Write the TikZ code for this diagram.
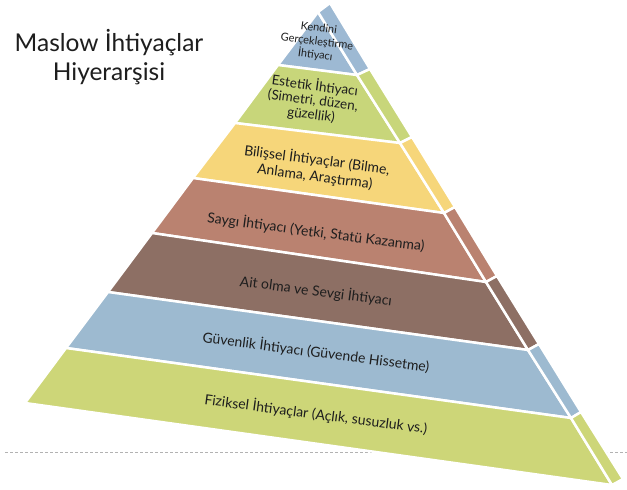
\documentclass[tikz,border=0pt]{standalone}
\usepackage{fontspec}
\setmainfont{Lato}
\definecolor{ckendi}{RGB}{157,185,211}
\definecolor{cestetik}{RGB}{200,214,122}
\definecolor{cbilis}{RGB}{246,214,122}
\definecolor{csaygi}{RGB}{186,130,112}
\definecolor{cait}{RGB}{141,111,100}
\definecolor{cguven}{RGB}{157,186,208}
\definecolor{cfizik}{RGB}{205,214,120}
\definecolor{ctext}{RGB}{30,30,30}
\begin{document}
\begin{tikzpicture}[x=1pt,y=-1pt,
  layerface/.style={draw=white, line width=2.5pt, line join=round},
  lbl/.style={text=ctext, font=\fontsize{14}{16.5}\selectfont, align=center, rotate=-7.5, inner sep=0pt},
  titlelbl/.style={text=ctext, font=\fontsize{24.5}{29}\selectfont, align=center, inner sep=0pt},
  guide/.style={draw=black!30, line width=0.8pt, dash pattern=on 3pt off 2pt}]
\useasboundingbox (0,0) rectangle (627,490);
\fill[white] (0,0) rectangle (627,490);
% guide line
\coordinate (d1) at (5,452);
\coordinate (d2) at (627,452);
\draw[guide] (d1) -- (d2);
% left edge
\coordinate (L0) at (318,12);
\coordinate (L1) at (278,65);
\coordinate (L2) at (235,123);
\coordinate (L3) at (193,178);
\coordinate (L4) at (152,233);
\coordinate (L5) at (108,292);
\coordinate (L6) at (66,348);
\coordinate (L7) at (25,403);
% front/side edge
\coordinate (R0) at (318,12);
\coordinate (R1) at (357,75);
\coordinate (R2) at (400,143);
\coordinate (R3) at (444,213);
\coordinate (R4) at (486,282);
\coordinate (R5) at (528,350);
\coordinate (R6) at (571,418);
\coordinate (R7) at (612,485);
% outer edge
\coordinate (O0) at (330,3);
\coordinate (O1) at (370,69);
\coordinate (O2) at (412,137);
\coordinate (O3) at (455,207);
\coordinate (O4) at (497,276);
\coordinate (O5) at (539,344);
\coordinate (O6) at (581,412);
\coordinate (O7) at (623,479);
% layers
\foreach \i/\j/\c in {1/0/ckendi,2/1/cestetik,3/2/cbilis,4/3/csaygi,5/4/cait,6/5/cguven,7/6/cfizik}{
  \filldraw[layerface, fill=\c] (L\j) -- (L\i) -- (R\i) -- (R\j) -- cycle;
  \filldraw[layerface, fill=\c] (R\j) -- (R\i) -- (O\i) -- (O\j) -- cycle;
}
% labels
\node[lbl, font=\fontsize{11}{13.5}\selectfont] (tk) at (317,42) {Kendini\\Gerçekleştirme\\İhtiyacı};
\node[lbl, font=\fontsize{13.5}{14.5}\selectfont] (te) at (313,100) {Estetik İhtiyacı\\(Simetri, düzen,\\güzellik)};
\node[lbl] (tb) at (316,168) {Bilişsel İhtiyaçlar (Bilme,\\Anlama, Araştırma)};
\node[lbl] (ts) at (316,232) {Saygı İhtiyacı (Yetki, Statü Kazanma)};
\node[lbl] (ta) at (316,291) {Ait olma ve Sevgi İhtiyacı};
\node[lbl] (tg) at (316,352) {Güvenlik İhtiyacı (Güvende Hissetme)};
\node[lbl] (tf) at (316,414) {Fiziksel İhtiyaçlar (Açlık, susuzluk vs.)};
\node[titlelbl] (title) at (109,57) {Maslow İhtiyaçlar\\Hiyerarşisi};
\end{tikzpicture}
\end{document}
